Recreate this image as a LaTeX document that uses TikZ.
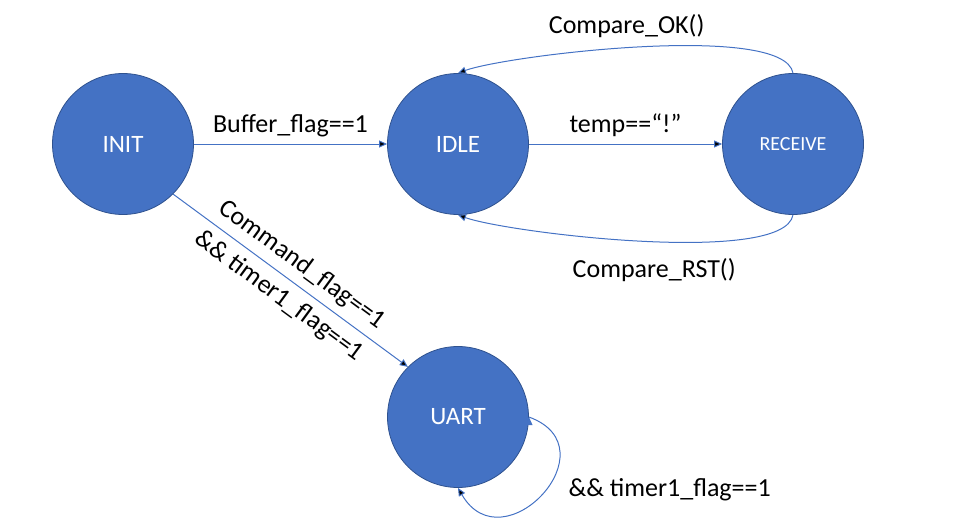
\documentclass[tikz,border=0pt]{standalone}
\usepackage{fontspec}
\setmainfont{Carlito}
\usetikzlibrary{arrows.meta,automata}

\definecolor{stateblue}{HTML}{4472C4}
\definecolor{stateedge}{HTML}{2F528F}

\begin{document}
\begin{tikzpicture}[x=1pt,y=-1pt,->,>={Triangle[length=8pt,width=7pt]},
                    node distance=335pt,
                    every state/.style={circle,fill=stateblue,draw=stateedge,line width=0.8pt,
                      minimum size=141pt,inner sep=0pt,text=white,font=\fontsize{25}{30}\selectfont},
                    trans/.style={draw=stateblue,line width=1pt},
                    lbl/.style={font=\fontsize{26}{31}\selectfont,text=black}]

  \useasboundingbox (0,0) rectangle (953,527);

  \node[state]         (INIT) at (123,144)     {INIT};
  \node[state]         (IDLE) [right of=INIT]  {IDLE};
  \node[state]         (RECV) [right of=IDLE, font=\fontsize{20}{24}\selectfont] {RECEIVE};
  \node[state]         (UART) [below of=IDLE, node distance=273pt] {UART};

  \path[trans] (INIT) edge node[lbl,above=3pt] {Buffer\_flag==1} (IDLE)
         (INIT.-45) edge node[lbl,sloped,align=center] {Command\_flag==1\\[8pt]\&\& timer1\_flag==1} (UART.135)
         (IDLE) edge node[lbl,above=3pt] {temp==“!”} (RECV)
         (RECV.north) edge [out=100,in=20,looseness=0.4] node[lbl,above=6pt,pos=0.53] {Compare\_OK()} (IDLE.north)
         (RECV.south) edge [out=-100,in=-20,looseness=0.4] node[lbl,below=13pt,pos=0.47] {Compare\_RST()} (IDLE.south)
         (UART.east) edge [out=-20,in=-60,looseness=2.3] (UART.south);

  \node[lbl] (loopLabel) [anchor=west] at (565,490) {\&\& timer1\_flag==1};
\end{tikzpicture}
\end{document}
